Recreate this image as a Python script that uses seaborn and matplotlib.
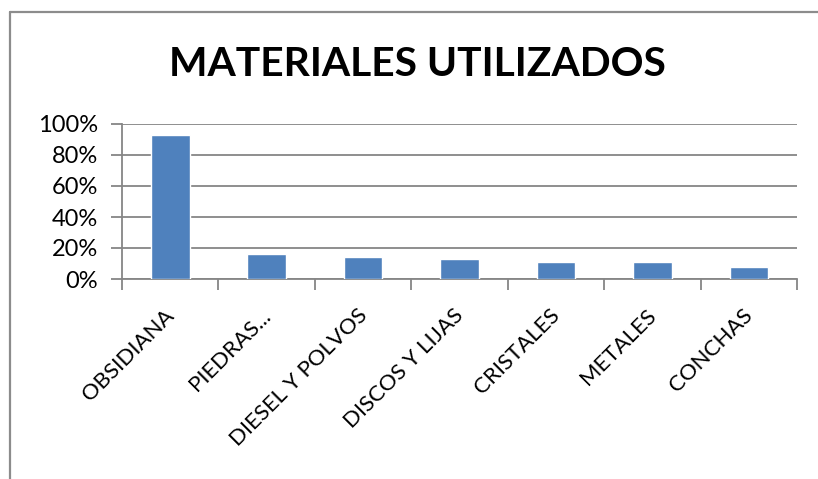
import numpy as np
import pandas as pd
import matplotlib
matplotlib.use('Agg')
import matplotlib.pyplot as plt
import matplotlib.transforms as mtransforms
import seaborn as sns
from matplotlib.ticker import PercentFormatter

# Data
materials = ['OBSIDIANA', 'PIEDRAS...', 'DIESEL Y POLVOS', 'DISCOS Y LIJAS',
             'CRISTALES', 'METALES', 'CONCHAS']
shares = [0.93, 0.16, 0.14, 0.13, 0.11, 0.11, 0.08]
yticks = [0, 0.2, 0.4, 0.6, 0.8, 1.0]

df = pd.DataFrame({'material': materials, 'share': shares})

sns.set_style('white')
plt.rcParams['font.family'] = ['Lato', 'DejaVu Sans']
plt.rcParams['text.color'] = 'black'
plt.rcParams['xtick.color'] = 'black'
plt.rcParams['ytick.color'] = 'black'

fig = plt.figure(figsize=(8.18, 4.79), dpi=100)
ax = fig.add_axes([122 / 818, 1 - 279 / 479, (797 - 122) / 818, (279 - 124) / 479])

sns.barplot(data=df, x='material', y='share', color='#4f81bd', width=0.4,
            saturation=1, ax=ax, zorder=3)

ax.set_ylim(0, 1.0)
ax.set_xlim(-0.5, len(materials) - 0.5)
ax.set_yticks(yticks)
ax.yaxis.set_major_formatter(PercentFormatter(1.0, decimals=0))
ax.grid(axis='y', color='#868686', linewidth=1.3, zorder=0)
ax.set_axisbelow(True)

for s in ['top', 'right']:
    ax.spines[s].set_visible(False)
for s in ['left', 'bottom']:
    ax.spines[s].set_color('#868686')
    ax.spines[s].set_linewidth(1.3)

# x tick marks at category boundaries
ax.set_xticks(np.arange(len(materials)))
ax.set_xticklabels(materials, rotation=45, ha='right', rotation_mode='anchor')
ax.set_xticks(np.arange(-0.5, len(materials)), minor=True)
ax.tick_params(axis='x', which='major', length=0, pad=19, labelsize=16,
               labelcolor='black')
ax.tick_params(axis='x', which='minor', length=8, width=1.3, color='#868686',
               direction='out', bottom=True)
ax.tick_params(axis='y', length=8, width=1.3, color='#868686', direction='out',
               left=True, labelsize=17, pad=9.5, labelcolor='black')
ax.set_xlabel('')
ax.set_ylabel('')

shift = mtransforms.ScaledTranslation(-6 / 100, 0, fig.dpi_scale_trans)
for lbl in ax.get_xticklabels():
    lbl.set_transform(lbl.get_transform() + shift)

fig.text(417.5 / 818, 1 - 65 / 479, 'MATERIALES UTILIZADOS', ha='center',
         va='center', fontsize=29.3, fontweight='bold', color='black')

# chart frame (left and top edges visible)
fig.add_artist(plt.Line2D([9.5 / 818, 9.5 / 818], [0, 1 - 11.5 / 479],
                          color='#8c8c8c', linewidth=1.6))
fig.add_artist(plt.Line2D([9.5 / 818, 1], [1 - 11.5 / 479, 1 - 11.5 / 479],
                          color='#8c8c8c', linewidth=1.6))

fig.savefig('out.png', dpi=100)
